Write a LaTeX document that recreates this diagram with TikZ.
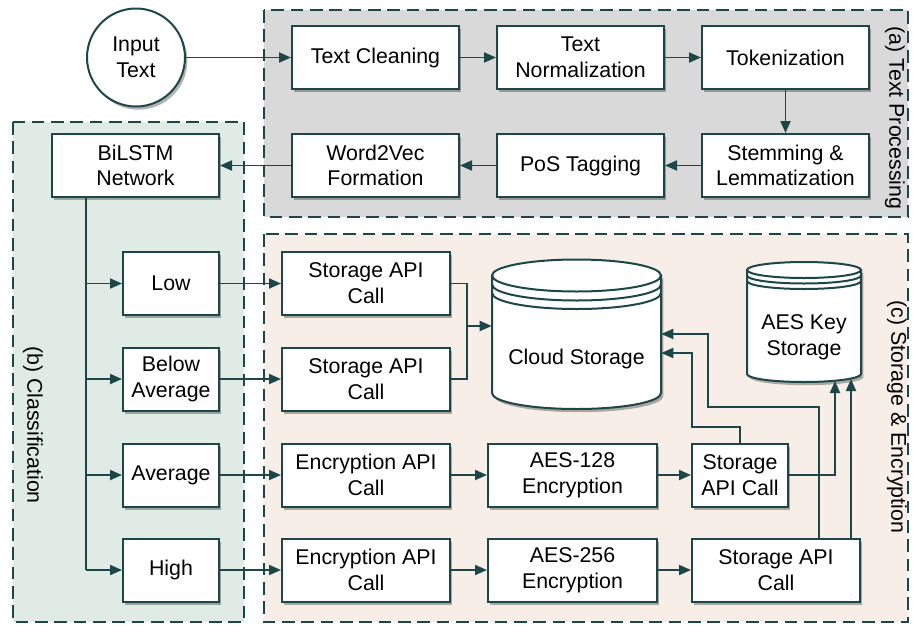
\documentclass[tikz,border=0pt]{standalone}
\usepackage{fontspec}
\setmainfont{Liberation Sans}
\usetikzlibrary{arrows.meta,shadows,calc}
\definecolor{lc}{RGB}{28,70,72}
\definecolor{pgray}{RGB}{217,217,217}
\definecolor{pgreen}{RGB}{223,235,228}
\definecolor{ppeach}{RGB}{247,238,232}
\tikzset{
  shd/.style={drop shadow={shadow xshift=1.8pt, shadow yshift=-2.4pt, fill=black, opacity=0.3}},
  box/.style={draw=lc, line width=1.5pt, fill=white, shd, align=center, inner sep=0pt,
    font=\fontsize{16}{19.3}\selectfont},
  wbox/.style={box, minimum width=125.25pt, minimum height=47.25pt},
  sbox/.style={box, minimum width=72pt, minimum height=47.25pt},
  conn/.style={draw=lc, line width=1.4pt, -{Triangle[length=9pt,width=7.5pt]}},
  line/.style={draw=lc, line width=1.4pt},
  panel/.style={draw=lc, line width=1.4pt, dash pattern=on 9.5pt off 5pt},
  plabel/.style={rotate=-90, font=\fontsize{16}{19.3}\selectfont},
}
\begin{document}
\begin{tikzpicture}[x=0.75pt,y=-0.75pt]
\useasboundingbox (0,0) rectangle (913,625);
% panels
\path[panel, fill=pgray] (264,10) rectangle (908,217);
\path[panel, fill=pgreen] (13,122) rectangle (244,622);
\path[panel, fill=ppeach] (264,234) rectangle (908,622);
\node[plabel] (la) at (895,118) {(a) Text Processing};
\node[plabel] (lb) at (33,425) {(b) Classification};
\node[plabel] (lc) at (897,417) {(c) Storage \& Encryption};

% text processing
\node[circle, draw=lc, line width=1.5pt, fill=white, shd, minimum size=73.5pt, inner sep=0pt, align=center, font=\fontsize{16}{19.3}\selectfont] (in) at (136,57.5) {Input\\Text};
\node[wbox] (tc) at (375.5,57.5) {Text Cleaning};
\node[wbox] (tn) at (580.5,57.5) {Text\\Normalization};
\node[wbox] (tok) at (785.5,57.5) {Tokenization};
\node[wbox] (stem) at (785.5,165.5) {Stemming \&\\Lemmatization};
\node[wbox] (pos) at (580.5,165.5) {PoS Tagging};
\node[wbox] (w2v) at (375.5,165.5) {Word2Vec\\Formation};
\node[wbox] (bil) at (135.5,165.5) {BiLSTM\\Network};

\draw[conn] (in) -- (tc);
\draw[conn] (tc) -- (tn);
\draw[conn] (tn) -- (tok);
\draw[conn] (tok) -- (stem);
\draw[conn] (stem) -- (pos);
\draw[conn] (pos) -- (w2v);
\draw[conn] (w2v) -- (bil);

% classification
\node[sbox] (low) at (171,283.5) {Low};
\node[sbox] (below) at (171,379) {Below\\Average};
\node[sbox] (avg) at (171,475) {Average};
\node[sbox] (high) at (171,570) {High};
\coordinate (trunk) at (86,570);
\draw[line] (bil.south -| trunk) -- (trunk);
\draw[conn] (low.west -| trunk) -- (low);
\draw[conn] (below.west -| trunk) -- (below);
\draw[conn] (avg.west -| trunk) -- (avg);
\draw[conn] (high.west -| trunk) -- (high);

% storage & encryption
\node[wbox, minimum width=126pt] (sa1) at (366,283.5) {Storage API\\Call};
\node[wbox, minimum width=126pt] (sa2) at (366,379) {Storage API\\Call};
\node[wbox, minimum width=126pt] (enc1) at (366,475) {Encryption API\\Call};
\node[wbox, minimum width=126pt] (enc2) at (366,570) {Encryption API\\Call};
\node[wbox, minimum width=126.75pt] (aes1) at (572.5,475) {AES-128\\Encryption};
\node[wbox, minimum width=126.75pt] (aes2) at (572.5,570) {AES-256\\Encryption};
\node[sbox] (st3) at (740,475) {Storage\\API Call};
\node[wbox, minimum width=126pt] (st4) at (776,570) {Storage API\\Call};

% cloud storage cylinder
\path[draw=lc, line width=1.5pt, fill=white, shd]
  (492,275.5) -- (492,393) arc[start angle=180, end angle=0, x radius=84.5, y radius=16] -- (661,275.5) -- cycle;
\draw[lc, line width=1.5pt, fill=white] (576.5,275.5) ellipse [x radius=84.5, y radius=16];
\draw[lc, line width=1.5pt] (492,284.5) arc[start angle=180, end angle=0, x radius=84.5, y radius=16];
\draw[lc, line width=1.5pt] (492,293) arc[start angle=180, end angle=0, x radius=84.5, y radius=16];
\node[minimum width=126.75pt, minimum height=112.5pt, inner sep=0pt] (cloud) at (576.5,334) {};
\node[font=\fontsize{16}{19.3}\selectfont] (cloudt) at (576.5,359) {Cloud Storage};

% AES key storage cylinder
\path[draw=lc, line width=1.5pt, fill=white, shd]
  (747,270) -- (747,374) arc[start angle=180, end angle=0, x radius=57, y radius=8] -- (861,270) -- cycle;
\draw[lc, line width=1.5pt, fill=white] (804,270) ellipse [x radius=57, y radius=8];
\draw[lc, line width=1.5pt] (747,275.5) arc[start angle=180, end angle=0, x radius=57, y radius=8];
\draw[lc, line width=1.5pt] (747,281) arc[start angle=180, end angle=0, x radius=57, y radius=8];
\node[minimum width=85.5pt, minimum height=90pt, inner sep=0pt] (key) at (804,322) {};
\node[align=center, font=\fontsize{16}{19.3}\selectfont] (keyt) at (804,337) {AES Key\\Storage};

% connectors
\draw[conn] (low) -- (sa1);
\draw[conn] (below) -- (sa2);
\draw[conn] (avg) -- (enc1);
\draw[conn] (high) -- (enc2);
\draw[conn] (enc1) -- (aes1);
\draw[conn] (enc2) -- (aes2);
\draw[conn] (aes1) -- (st3);
\draw[conn] (aes2) -- (st4);

\coordinate (mg) at (467,326);
\draw[line] (sa1.east) -| (mg);
\draw[line] (sa2.east) -| (mg);
\draw[conn] (mg) -- (mg -| cloud.west);

\coordinate (s4a) at (819,538);
\coordinate (s4b) at (851,538);
\draw[conn] (st3.north) -- (740,427) -- (692,427) -- (692,353) -- (cloud.east |- 0,353);
\draw[conn] (s4a) -- (819,407) -- (708,407) -- (708,334) -- (cloud.east |- 0,334);
\draw[conn] (st3.east) -- (835,475) -- (835,381);
\draw[conn] (s4b) -- (851,379);
\end{tikzpicture}
\end{document}
